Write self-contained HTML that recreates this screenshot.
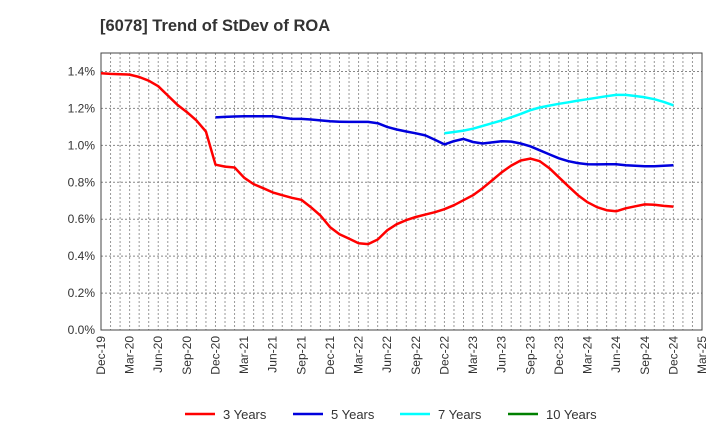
<!DOCTYPE html>
<html><head><meta charset="utf-8"><style>
body{margin:0;background:#fff;}
svg{font-family:"Liberation Sans",Arial,sans-serif;}
</style></head><body>
<svg id="chart" width="720" height="440" xmlns="http://www.w3.org/2000/svg">
<text x="100" y="31" font-size="16.5" font-weight="bold" fill="#333">[6078]  Trend of StDev of ROA</text>
<g id="grid"></g>
<g id="axes"></g>
<g id="series"></g>
<g id="legend"></g>
</svg>
<script>
const xTickLabels=["Dec-19","Mar-20","Jun-20","Sep-20","Dec-20","Mar-21","Jun-21","Sep-21","Dec-21","Mar-22","Jun-22","Sep-22","Dec-22","Mar-23","Jun-23","Sep-23","Dec-23","Mar-24","Jun-24","Sep-24","Dec-24","Mar-25"];
const yTicks=[0,0.2,0.4,0.6,0.8,1.0,1.2,1.4];
const yTickLabels=["0.0%","0.2%","0.4%","0.6%","0.8%","1.0%","1.2%","1.4%"];
const seriesNames=["3 Years","5 Years","7 Years","10 Years"];
const seriesColors=["#ff0000","#0000dd","#00ffff","#008000"];
// monthly values starting at Dec-19 (month index 0); null = no data
const y3=[1.39,1.387,1.385,1.383,1.37,1.35,1.32,1.27,1.22,1.18,1.135,1.075,0.895,0.885,0.88,0.825,0.79,0.768,0.745,0.73,0.716,0.705,0.665,0.62,0.557,0.519,0.495,0.47,0.465,0.49,0.54,0.573,0.595,0.612,0.625,0.638,0.654,0.676,0.703,0.73,0.768,0.81,0.854,0.89,0.918,0.928,0.914,0.876,0.827,0.778,0.73,0.692,0.665,0.649,0.643,0.659,0.67,0.68,0.678,0.672,0.668];
const y5=[null,null,null,null,null,null,null,null,null,null,null,null,1.151,1.154,1.156,1.157,1.158,1.158,1.157,1.15,1.143,1.143,1.14,1.135,1.13,1.128,1.127,1.127,1.127,1.12,1.10,1.086,1.075,1.065,1.054,1.03,1.005,1.023,1.035,1.018,1.01,1.016,1.022,1.02,1.01,0.995,0.973,0.951,0.93,0.914,0.904,0.898,0.897,0.898,0.898,0.892,0.889,0.887,0.887,0.889,0.892];
const y7=[null,null,null,null,null,null,null,null,null,null,null,null,null,null,null,null,null,null,null,null,null,null,null,null,null,null,null,null,null,null,null,null,null,null,null,null,1.065,1.072,1.08,1.09,1.105,1.12,1.135,1.152,1.17,1.19,1.205,1.215,1.225,1.233,1.242,1.25,1.258,1.266,1.273,1.273,1.267,1.26,1.25,1.235,1.217];
const y10=[];
const X0=101,X1=702,Y0=330,Y1=53,YMAX=1.5,NM=63;
const xs=m=>X0+(X1-X0)*m/NM;
const ys=v=>Y0-(Y0-Y1)*v/YMAX;
const NS="http://www.w3.org/2000/svg";
function mk(tag,attrs,parent){const e=document.createElementNS(NS,tag);for(const k in attrs)e.setAttribute(k,attrs[k]);parent.appendChild(e);return e;}
const grid=document.getElementById('grid'),axes=document.getElementById('axes'),ser=document.getElementById('series'),leg=document.getElementById('legend');
for(let m=1;m<NM;m+=1){
  const l=mk('line',{x1:xs(m),x2:xs(m),y1:Y1,y2:Y0,stroke:'#999','stroke-dasharray':'2,2','stroke-width':1},grid);
  
  
}
for(let i=1;i<yTicks.length;i++){
  const l=mk('line',{x1:X0,x2:X1,y1:ys(yTicks[i]),y2:ys(yTicks[i]),stroke:'#888','stroke-dasharray':'2,2','stroke-width':1},grid);
  
  
}
const fr=mk('rect',{x:X0,y:Y1,width:X1-X0,height:Y0-Y1,fill:'none',stroke:'#444','stroke-width':1},axes);


yTicks.forEach((v,i)=>{
  const t=mk('text',{x:X0-6,y:ys(v)+4,'font-size':12,'text-anchor':'end',fill:'#333'},axes);
  t.textContent=yTickLabels[i];
  
  
});
xTickLabels.forEach((s,i)=>{
  const x=xs(i*3);
  const t=mk('text',{x:0,y:0,'font-size':12,'text-anchor':'end',fill:'#333',transform:`translate(${x+4},336) rotate(-90)`},axes);
  t.textContent=s;
  
  
});
[y3,y5,y7,y10].forEach((arr,si)=>{
  let d='';let pen=false;
  arr.forEach((v,m)=>{if(v==null){pen=false;return;}d+=(pen?'L':'M')+xs(m).toFixed(1)+','+ys(v).toFixed(1);pen=true;});
  if(!d)return;
  const p=mk('path',{d:d,fill:'none',stroke:seriesColors[si],'stroke-width':2.5,'stroke-linejoin':'round'},ser);
  
  
});
const legX=[185,293,400,508];
seriesNames.forEach((n,i)=>{
  const g=mk('g',{},leg);
  
  
  mk('line',{x1:legX[i],x2:legX[i]+30,y1:414,y2:414,stroke:seriesColors[i],'stroke-width':2.5},g);
  const t=mk('text',{x:legX[i]+38,y:419,'font-size':13,fill:'#333'},g);
  t.textContent=n;
});
</script>
</body></html>
